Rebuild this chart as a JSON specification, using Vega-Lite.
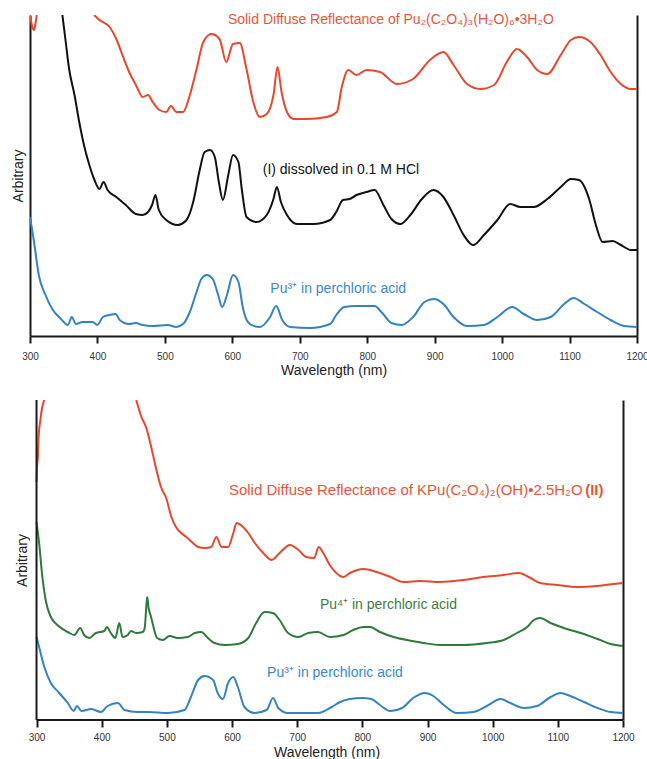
{
"$schema": "https://vega.github.io/schema/vega-lite/v6.json",
"padding": {"left": 11, "top": 13, "right": 0, "bottom": 0},
"background": "white",
"config": {
  "font": "Liberation Sans",
  "view": {"stroke": null},
  "axis": {"grid": false, "domainColor": "#1a1a1a", "domainWidth": 2, "tickColor": "#1a1a1a", "tickWidth": 2, "labelColor": "#333333", "titleColor": "#222222", "titleFontWeight": "normal"}
},
"columns": 1,
"spacing": 22,
"align": "none",
"bounds": "full",
"datasets": {
 "top": [
  {"s":"red","g":"r1","wl":300,"v":321},{"s":"red","g":"r1","wl":303,"v":310},{"s":"red","g":"r1","wl":306,"v":306},{"s":"red","g":"r1","wl":308,"v":312},{"s":"red","g":"r1","wl":310,"v":321},
  {"s":"red","g":"r2","wl":395,"v":321},{"s":"red","g":"r2","wl":403,"v":316},{"s":"red","g":"r2","wl":418,"v":309},{"s":"red","g":"r2","wl":428,"v":297},{"s":"red","g":"r2","wl":437,"v":281},{"s":"red","g":"r2","wl":447,"v":264},{"s":"red","g":"r2","wl":457,"v":251},{"s":"red","g":"r2","wl":467,"v":239},{"s":"red","g":"r2","wl":475,"v":241},{"s":"red","g":"r2","wl":482,"v":234},{"s":"red","g":"r2","wl":492,"v":226},{"s":"red","g":"r2","wl":502,"v":224},{"s":"red","g":"r2","wl":509,"v":230},{"s":"red","g":"r2","wl":517,"v":224},{"s":"red","g":"r2","wl":527,"v":224},{"s":"red","g":"r2","wl":537,"v":241},{"s":"red","g":"r2","wl":547,"v":267},{"s":"red","g":"r2","wl":557,"v":294},{"s":"red","g":"r2","wl":569,"v":302},{"s":"red","g":"r2","wl":581,"v":297},{"s":"red","g":"r2","wl":591,"v":274},{"s":"red","g":"r2","wl":601,"v":292},{"s":"red","g":"r2","wl":611,"v":293},{"s":"red","g":"r2","wl":621,"v":267},{"s":"red","g":"r2","wl":631,"v":234},{"s":"red","g":"r2","wl":641,"v":219},{"s":"red","g":"r2","wl":651,"v":222},{"s":"red","g":"r2","wl":661,"v":241},{"s":"red","g":"r2","wl":667,"v":269},{"s":"red","g":"r2","wl":673,"v":244},{"s":"red","g":"r2","wl":681,"v":224},{"s":"red","g":"r2","wl":691,"v":217},{"s":"red","g":"r2","wl":710,"v":217},{"s":"red","g":"r2","wl":740,"v":219},{"s":"red","g":"r2","wl":755,"v":224},{"s":"red","g":"r2","wl":762,"v":248},{"s":"red","g":"r2","wl":772,"v":266},{"s":"red","g":"r2","wl":784,"v":261},{"s":"red","g":"r2","wl":799,"v":266},{"s":"red","g":"r2","wl":819,"v":264},{"s":"red","g":"r2","wl":844,"v":252},{"s":"red","g":"r2","wl":868,"v":257},{"s":"red","g":"r2","wl":893,"v":276},{"s":"red","g":"r2","wl":913,"v":284},{"s":"red","g":"r2","wl":928,"v":271},{"s":"red","g":"r2","wl":948,"v":252},{"s":"red","g":"r2","wl":968,"v":247},{"s":"red","g":"r2","wl":988,"v":251},{"s":"red","g":"r2","wl":1007,"v":274},{"s":"red","g":"r2","wl":1022,"v":287},{"s":"red","g":"r2","wl":1037,"v":279},{"s":"red","g":"r2","wl":1052,"v":266},{"s":"red","g":"r2","wl":1067,"v":262},{"s":"red","g":"r2","wl":1087,"v":281},{"s":"red","g":"r2","wl":1102,"v":296},{"s":"red","g":"r2","wl":1114,"v":299},{"s":"red","g":"r2","wl":1131,"v":294},{"s":"red","g":"r2","wl":1146,"v":281},{"s":"red","g":"r2","wl":1161,"v":264},{"s":"red","g":"r2","wl":1176,"v":252},{"s":"red","g":"r2","wl":1191,"v":247},{"s":"red","g":"r2","wl":1200,"v":247},
  {"s":"black","g":"k","wl":348,"v":321},{"s":"black","g":"k","wl":353,"v":294},{"s":"black","g":"k","wl":358,"v":267},{"s":"black","g":"k","wl":366,"v":241},{"s":"black","g":"k","wl":373,"v":214},{"s":"black","g":"k","wl":380,"v":191},{"s":"black","g":"k","wl":388,"v":171},{"s":"black","g":"k","wl":395,"v":157},{"s":"black","g":"k","wl":403,"v":147},{"s":"black","g":"k","wl":409,"v":154},{"s":"black","g":"k","wl":415,"v":146},{"s":"black","g":"k","wl":428,"v":139},{"s":"black","g":"k","wl":442,"v":131},{"s":"black","g":"k","wl":457,"v":122},{"s":"black","g":"k","wl":467,"v":121},{"s":"black","g":"k","wl":475,"v":124},{"s":"black","g":"k","wl":481,"v":131},{"s":"black","g":"k","wl":486,"v":141},{"s":"black","g":"k","wl":491,"v":126},{"s":"black","g":"k","wl":502,"v":116},{"s":"black","g":"k","wl":519,"v":111},{"s":"black","g":"k","wl":532,"v":116},{"s":"black","g":"k","wl":542,"v":134},{"s":"black","g":"k","wl":551,"v":164},{"s":"black","g":"k","wl":559,"v":184},{"s":"black","g":"k","wl":567,"v":186},{"s":"black","g":"k","wl":574,"v":179},{"s":"black","g":"k","wl":580,"v":154},{"s":"black","g":"k","wl":586,"v":136},{"s":"black","g":"k","wl":594,"v":161},{"s":"black","g":"k","wl":601,"v":181},{"s":"black","g":"k","wl":609,"v":174},{"s":"black","g":"k","wl":614,"v":147},{"s":"black","g":"k","wl":621,"v":119},{"s":"black","g":"k","wl":636,"v":114},{"s":"black","g":"k","wl":651,"v":121},{"s":"black","g":"k","wl":661,"v":137},{"s":"black","g":"k","wl":666,"v":149},{"s":"black","g":"k","wl":672,"v":134},{"s":"black","g":"k","wl":681,"v":121},{"s":"black","g":"k","wl":696,"v":112},{"s":"black","g":"k","wl":720,"v":112},{"s":"black","g":"k","wl":745,"v":116},{"s":"black","g":"k","wl":754,"v":124},{"s":"black","g":"k","wl":764,"v":136},{"s":"black","g":"k","wl":774,"v":137},{"s":"black","g":"k","wl":784,"v":141},{"s":"black","g":"k","wl":799,"v":144},{"s":"black","g":"k","wl":811,"v":146},{"s":"black","g":"k","wl":824,"v":131},{"s":"black","g":"k","wl":836,"v":117},{"s":"black","g":"k","wl":849,"v":112},{"s":"black","g":"k","wl":864,"v":121},{"s":"black","g":"k","wl":881,"v":137},{"s":"black","g":"k","wl":898,"v":146},{"s":"black","g":"k","wl":913,"v":139},{"s":"black","g":"k","wl":928,"v":121},{"s":"black","g":"k","wl":943,"v":101},{"s":"black","g":"k","wl":957,"v":91},{"s":"black","g":"k","wl":973,"v":101},{"s":"black","g":"k","wl":993,"v":116},{"s":"black","g":"k","wl":1012,"v":132},{"s":"black","g":"k","wl":1027,"v":129},{"s":"black","g":"k","wl":1047,"v":129},{"s":"black","g":"k","wl":1067,"v":137},{"s":"black","g":"k","wl":1087,"v":149},{"s":"black","g":"k","wl":1102,"v":157},{"s":"black","g":"k","wl":1114,"v":156},{"s":"black","g":"k","wl":1129,"v":137},{"s":"black","g":"k","wl":1139,"v":111},{"s":"black","g":"k","wl":1149,"v":94},{"s":"black","g":"k","wl":1164,"v":95},{"s":"black","g":"k","wl":1176,"v":91},{"s":"black","g":"k","wl":1191,"v":86},{"s":"black","g":"k","wl":1200,"v":86},
  {"s":"blue","g":"b","wl":300,"v":119},{"s":"blue","g":"b","wl":306,"v":94},{"s":"blue","g":"b","wl":313,"v":61},{"s":"blue","g":"b","wl":323,"v":41},{"s":"blue","g":"b","wl":333,"v":27},{"s":"blue","g":"b","wl":346,"v":17},{"s":"blue","g":"b","wl":356,"v":11},{"s":"blue","g":"b","wl":362,"v":19},{"s":"blue","g":"b","wl":368,"v":12},{"s":"blue","g":"b","wl":378,"v":14},{"s":"blue","g":"b","wl":393,"v":14},{"s":"blue","g":"b","wl":400,"v":11},{"s":"blue","g":"b","wl":408,"v":19},{"s":"blue","g":"b","wl":418,"v":21},{"s":"blue","g":"b","wl":427,"v":22},{"s":"blue","g":"b","wl":433,"v":16},{"s":"blue","g":"b","wl":447,"v":12},{"s":"blue","g":"b","wl":457,"v":13},{"s":"blue","g":"b","wl":467,"v":11},{"s":"blue","g":"b","wl":482,"v":10},{"s":"blue","g":"b","wl":504,"v":11},{"s":"blue","g":"b","wl":517,"v":9},{"s":"blue","g":"b","wl":527,"v":12},{"s":"blue","g":"b","wl":537,"v":24},{"s":"blue","g":"b","wl":547,"v":44},{"s":"blue","g":"b","wl":554,"v":57},{"s":"blue","g":"b","wl":562,"v":61},{"s":"blue","g":"b","wl":571,"v":57},{"s":"blue","g":"b","wl":579,"v":41},{"s":"blue","g":"b","wl":585,"v":29},{"s":"blue","g":"b","wl":592,"v":41},{"s":"blue","g":"b","wl":601,"v":61},{"s":"blue","g":"b","wl":609,"v":54},{"s":"blue","g":"b","wl":616,"v":27},{"s":"blue","g":"b","wl":626,"v":12},{"s":"blue","g":"b","wl":641,"v":9},{"s":"blue","g":"b","wl":656,"v":19},{"s":"blue","g":"b","wl":665,"v":30},{"s":"blue","g":"b","wl":674,"v":16},{"s":"blue","g":"b","wl":686,"v":9},{"s":"blue","g":"b","wl":715,"v":8},{"s":"blue","g":"b","wl":745,"v":12},{"s":"blue","g":"b","wl":754,"v":21},{"s":"blue","g":"b","wl":766,"v":29},{"s":"blue","g":"b","wl":784,"v":30},{"s":"blue","g":"b","wl":811,"v":30},{"s":"blue","g":"b","wl":821,"v":24},{"s":"blue","g":"b","wl":836,"v":13},{"s":"blue","g":"b","wl":851,"v":11},{"s":"blue","g":"b","wl":868,"v":19},{"s":"blue","g":"b","wl":885,"v":34},{"s":"blue","g":"b","wl":899,"v":37},{"s":"blue","g":"b","wl":913,"v":32},{"s":"blue","g":"b","wl":928,"v":19},{"s":"blue","g":"b","wl":948,"v":10},{"s":"blue","g":"b","wl":973,"v":11},{"s":"blue","g":"b","wl":993,"v":19},{"s":"blue","g":"b","wl":1015,"v":29},{"s":"blue","g":"b","wl":1032,"v":22},{"s":"blue","g":"b","wl":1052,"v":16},{"s":"blue","g":"b","wl":1072,"v":19},{"s":"blue","g":"b","wl":1092,"v":32},{"s":"blue","g":"b","wl":1106,"v":38},{"s":"blue","g":"b","wl":1122,"v":32},{"s":"blue","g":"b","wl":1141,"v":24},{"s":"blue","g":"b","wl":1161,"v":16},{"s":"blue","g":"b","wl":1181,"v":10},{"s":"blue","g":"b","wl":1200,"v":9}
 ],
 "bottom": [
  {"s":"red","g":"r1","wl":300,"v":238},{"s":"red","g":"r1","wl":301,"v":255},{"s":"red","g":"r1","wl":302,"v":262},{"s":"red","g":"r1","wl":303,"v":280},{"s":"red","g":"r1","wl":304,"v":290},{"s":"red","g":"r1","wl":306,"v":300},{"s":"red","g":"r1","wl":308,"v":310},{"s":"red","g":"r1","wl":310,"v":316},{"s":"red","g":"r1","wl":312,"v":320},
  {"s":"red","g":"r2","wl":453,"v":320},{"s":"red","g":"r2","wl":461,"v":303},{"s":"red","g":"r2","wl":468,"v":293},{"s":"red","g":"r2","wl":476,"v":273},{"s":"red","g":"r2","wl":484,"v":250},{"s":"red","g":"r2","wl":491,"v":233},{"s":"red","g":"r2","wl":499,"v":222},{"s":"red","g":"r2","wl":507,"v":203},{"s":"red","g":"r2","wl":514,"v":193},{"s":"red","g":"r2","wl":522,"v":187},{"s":"red","g":"r2","wl":530,"v":183},{"s":"red","g":"r2","wl":540,"v":177},{"s":"red","g":"r2","wl":548,"v":173},{"s":"red","g":"r2","wl":558,"v":172},{"s":"red","g":"r2","wl":568,"v":173},{"s":"red","g":"r2","wl":576,"v":183},{"s":"red","g":"r2","wl":584,"v":173},{"s":"red","g":"r2","wl":594,"v":173},{"s":"red","g":"r2","wl":602,"v":187},{"s":"red","g":"r2","wl":607,"v":197},{"s":"red","g":"r2","wl":617,"v":193},{"s":"red","g":"r2","wl":625,"v":187},{"s":"red","g":"r2","wl":635,"v":177},{"s":"red","g":"r2","wl":648,"v":167},{"s":"red","g":"r2","wl":661,"v":160},{"s":"red","g":"r2","wl":673,"v":167},{"s":"red","g":"r2","wl":689,"v":175},{"s":"red","g":"r2","wl":702,"v":170},{"s":"red","g":"r2","wl":714,"v":163},{"s":"red","g":"r2","wl":726,"v":162},{"s":"red","g":"r2","wl":733,"v":173},{"s":"red","g":"r2","wl":740,"v":167},{"s":"red","g":"r2","wl":750,"v":155},{"s":"red","g":"r2","wl":760,"v":147},{"s":"red","g":"r2","wl":771,"v":143},{"s":"red","g":"r2","wl":781,"v":147},{"s":"red","g":"r2","wl":802,"v":151},{"s":"red","g":"r2","wl":822,"v":148},{"s":"red","g":"r2","wl":843,"v":143},{"s":"red","g":"r2","wl":863,"v":138},{"s":"red","g":"r2","wl":889,"v":139},{"s":"red","g":"r2","wl":919,"v":138},{"s":"red","g":"r2","wl":955,"v":140},{"s":"red","g":"r2","wl":986,"v":143},{"s":"red","g":"r2","wl":1017,"v":145},{"s":"red","g":"r2","wl":1040,"v":147},{"s":"red","g":"r2","wl":1058,"v":142},{"s":"red","g":"r2","wl":1073,"v":137},{"s":"red","g":"r2","wl":1099,"v":135},{"s":"red","g":"r2","wl":1130,"v":133},{"s":"red","g":"r2","wl":1161,"v":134},{"s":"red","g":"r2","wl":1186,"v":136},{"s":"red","g":"r2","wl":1200,"v":137},
  {"s":"green","g":"gr","wl":300,"v":198},{"s":"green","g":"gr","wl":304,"v":177},{"s":"green","g":"gr","wl":309,"v":143},{"s":"green","g":"gr","wl":314,"v":120},{"s":"green","g":"gr","wl":322,"v":103},{"s":"green","g":"gr","wl":332,"v":95},{"s":"green","g":"gr","wl":348,"v":88},{"s":"green","g":"gr","wl":358,"v":85},{"s":"green","g":"gr","wl":367,"v":92},{"s":"green","g":"gr","wl":373,"v":85},{"s":"green","g":"gr","wl":381,"v":82},{"s":"green","g":"gr","wl":391,"v":87},{"s":"green","g":"gr","wl":404,"v":89},{"s":"green","g":"gr","wl":408,"v":93},{"s":"green","g":"gr","wl":414,"v":87},{"s":"green","g":"gr","wl":421,"v":82},{"s":"green","g":"gr","wl":427,"v":97},{"s":"green","g":"gr","wl":432,"v":83},{"s":"green","g":"gr","wl":440,"v":85},{"s":"green","g":"gr","wl":445,"v":89},{"s":"green","g":"gr","wl":453,"v":87},{"s":"green","g":"gr","wl":463,"v":88},{"s":"green","g":"gr","wl":466,"v":92},{"s":"green","g":"gr","wl":469,"v":118},{"s":"green","g":"gr","wl":470,"v":123},{"s":"green","g":"gr","wl":472,"v":112},{"s":"green","g":"gr","wl":475,"v":105},{"s":"green","g":"gr","wl":478,"v":97},{"s":"green","g":"gr","wl":485,"v":82},{"s":"green","g":"gr","wl":494,"v":80},{"s":"green","g":"gr","wl":504,"v":84},{"s":"green","g":"gr","wl":517,"v":82},{"s":"green","g":"gr","wl":532,"v":83},{"s":"green","g":"gr","wl":543,"v":87},{"s":"green","g":"gr","wl":553,"v":88},{"s":"green","g":"gr","wl":563,"v":82},{"s":"green","g":"gr","wl":573,"v":77},{"s":"green","g":"gr","wl":589,"v":75},{"s":"green","g":"gr","wl":609,"v":76},{"s":"green","g":"gr","wl":625,"v":82},{"s":"green","g":"gr","wl":637,"v":97},{"s":"green","g":"gr","wl":650,"v":108},{"s":"green","g":"gr","wl":663,"v":107},{"s":"green","g":"gr","wl":673,"v":100},{"s":"green","g":"gr","wl":686,"v":87},{"s":"green","g":"gr","wl":702,"v":83},{"s":"green","g":"gr","wl":717,"v":87},{"s":"green","g":"gr","wl":732,"v":88},{"s":"green","g":"gr","wl":750,"v":83},{"s":"green","g":"gr","wl":771,"v":85},{"s":"green","g":"gr","wl":786,"v":90},{"s":"green","g":"gr","wl":802,"v":93},{"s":"green","g":"gr","wl":812,"v":93},{"s":"green","g":"gr","wl":827,"v":88},{"s":"green","g":"gr","wl":848,"v":83},{"s":"green","g":"gr","wl":868,"v":80},{"s":"green","g":"gr","wl":894,"v":77},{"s":"green","g":"gr","wl":919,"v":75},{"s":"green","g":"gr","wl":955,"v":75},{"s":"green","g":"gr","wl":991,"v":77},{"s":"green","g":"gr","wl":1017,"v":80},{"s":"green","g":"gr","wl":1037,"v":87},{"s":"green","g":"gr","wl":1053,"v":93},{"s":"green","g":"gr","wl":1063,"v":100},{"s":"green","g":"gr","wl":1073,"v":102},{"s":"green","g":"gr","wl":1089,"v":97},{"s":"green","g":"gr","wl":1109,"v":92},{"s":"green","g":"gr","wl":1135,"v":87},{"s":"green","g":"gr","wl":1161,"v":81},{"s":"green","g":"gr","wl":1181,"v":76},{"s":"green","g":"gr","wl":1200,"v":74},
  {"s":"blue","g":"b","wl":300,"v":83},{"s":"blue","g":"b","wl":304,"v":73},{"s":"blue","g":"b","wl":312,"v":53},{"s":"blue","g":"b","wl":322,"v":37},{"s":"blue","g":"b","wl":335,"v":27},{"s":"blue","g":"b","wl":348,"v":17},{"s":"blue","g":"b","wl":357,"v":9},{"s":"blue","g":"b","wl":362,"v":14},{"s":"blue","g":"b","wl":369,"v":9},{"s":"blue","g":"b","wl":384,"v":11},{"s":"blue","g":"b","wl":399,"v":8},{"s":"blue","g":"b","wl":409,"v":14},{"s":"blue","g":"b","wl":425,"v":17},{"s":"blue","g":"b","wl":435,"v":10},{"s":"blue","g":"b","wl":455,"v":8},{"s":"blue","g":"b","wl":471,"v":8},{"s":"blue","g":"b","wl":502,"v":7},{"s":"blue","g":"b","wl":527,"v":10},{"s":"blue","g":"b","wl":537,"v":23},{"s":"blue","g":"b","wl":548,"v":40},{"s":"blue","g":"b","wl":558,"v":44},{"s":"blue","g":"b","wl":571,"v":40},{"s":"blue","g":"b","wl":578,"v":27},{"s":"blue","g":"b","wl":586,"v":21},{"s":"blue","g":"b","wl":594,"v":37},{"s":"blue","g":"b","wl":602,"v":43},{"s":"blue","g":"b","wl":609,"v":33},{"s":"blue","g":"b","wl":619,"v":13},{"s":"blue","g":"b","wl":635,"v":7},{"s":"blue","g":"b","wl":653,"v":10},{"s":"blue","g":"b","wl":663,"v":22},{"s":"blue","g":"b","wl":671,"v":12},{"s":"blue","g":"b","wl":686,"v":7},{"s":"blue","g":"b","wl":732,"v":7},{"s":"blue","g":"b","wl":753,"v":13},{"s":"blue","g":"b","wl":766,"v":18},{"s":"blue","g":"b","wl":781,"v":21},{"s":"blue","g":"b","wl":800,"v":22},{"s":"blue","g":"b","wl":814,"v":21},{"s":"blue","g":"b","wl":827,"v":15},{"s":"blue","g":"b","wl":843,"v":9},{"s":"blue","g":"b","wl":861,"v":12},{"s":"blue","g":"b","wl":878,"v":22},{"s":"blue","g":"b","wl":896,"v":27},{"s":"blue","g":"b","wl":909,"v":24},{"s":"blue","g":"b","wl":925,"v":15},{"s":"blue","g":"b","wl":945,"v":7},{"s":"blue","g":"b","wl":971,"v":8},{"s":"blue","g":"b","wl":991,"v":14},{"s":"blue","g":"b","wl":1012,"v":21},{"s":"blue","g":"b","wl":1027,"v":17},{"s":"blue","g":"b","wl":1048,"v":12},{"s":"blue","g":"b","wl":1068,"v":14},{"s":"blue","g":"b","wl":1089,"v":23},{"s":"blue","g":"b","wl":1104,"v":27},{"s":"blue","g":"b","wl":1119,"v":24},{"s":"blue","g":"b","wl":1140,"v":18},{"s":"blue","g":"b","wl":1161,"v":12},{"s":"blue","g":"b","wl":1181,"v":8},{"s":"blue","g":"b","wl":1200,"v":7}
 ]
},
"concat": [
 {
  "width": 607, "height": 321,
  "resolve": {"axis": {"y": "independent"}},
  "layer": [
   {
    "data": {"name": "top"},
    "mark": {"type": "line", "strokeWidth": 2, "clip": true, "interpolate": "monotone"},
    "encoding": {
     "x": {"field": "wl", "type": "quantitative", "scale": {"domain": [300, 1200], "nice": false, "zero": false},
           "axis": {"values": [300,400,500,600,700,800,900,1000,1100,1200], "format": "d", "tickSize": 7, "labelFontSize": 10, "labelPadding": 8, "title": "Wavelength (nm)", "titleFontSize": 14, "titlePadding": 2, "labelFlush": false}},
     "y": {"field": "v", "type": "quantitative", "scale": {"domain": [0, 321], "nice": false, "zero": false},
           "axis": {"orient": "left", "ticks": false, "labels": false, "title": "Arbitrary", "titleFontSize": 14, "titlePadding": 5}},
     "color": {"field": "s", "type": "nominal", "scale": {"domain": ["red", "black", "blue", "green"], "range": ["#e8472c", "#111111", "#3282c4", "#2f7a3a"]}, "legend": null},
     "detail": {"field": "g"}
    }
   },
   {
    "data": {"name": "top"},
    "mark": {"type": "line", "opacity": 0},
    "encoding": {
     "x": {"field": "wl", "type": "quantitative"},
     "y": {"field": "v", "type": "quantitative", "axis": {"orient": "right", "ticks": false, "labels": false, "title": null}}
    }
   },
   {
    "data": {"values": [{}]},
    "mark": {"type": "text", "text": "Solid Diffuse Reflectance of Pu₂(C₂O₄)₃(H₂O)₆•3H₂O", "fontSize": 14, "color": "#e8553a", "align": "center", "baseline": "middle"},
    "encoding": {"x": {"datum": 835, "type": "quantitative"}, "y": {"datum": 316, "type": "quantitative", "axis": null}}
   },
   {
    "data": {"values": [{}]},
    "mark": {"type": "text", "text": "(I) dissolved in 0.1 M HCl", "fontSize": 14, "color": "#111111", "align": "center", "baseline": "middle"},
    "encoding": {"x": {"datum": 761, "type": "quantitative"}, "y": {"datum": 166, "type": "quantitative", "axis": null}}
   },
   {
    "data": {"values": [{}]},
    "mark": {"type": "text", "text": "Pu³⁺ in perchloric acid", "fontSize": 14, "color": "#3a88cc", "align": "center", "baseline": "middle"},
    "encoding": {"x": {"datum": 757, "type": "quantitative"}, "y": {"datum": 47, "type": "quantitative", "axis": null}}
   }
  ]
 },
 {
  "width": 593, "height": 320,
  "resolve": {"axis": {"y": "independent"}},
  "layer": [
   {
    "data": {"name": "bottom"},
    "mark": {"type": "line", "strokeWidth": 2, "clip": true, "interpolate": "monotone"},
    "encoding": {
     "x": {"field": "wl", "type": "quantitative", "scale": {"domain": [290, 1200], "nice": false, "zero": false},
           "axis": {"values": [300,400,500,600,700,800,900,1000,1100,1200], "format": "d", "domain": false, "tickSize": 7, "labelFontSize": 10, "labelPadding": 5, "title": "Wavelength (nm)", "titleFontSize": 14, "titlePadding": 3, "labelFlush": false}},
     "y": {"field": "v", "type": "quantitative", "scale": {"domain": [0, 320], "nice": false, "zero": false},
           "axis": {"orient": "left", "domain": false, "ticks": false, "labels": false, "title": "Arbitrary", "titleFontSize": 14, "titlePadding": 1}},
     "color": {"field": "s", "type": "nominal", "scale": {"domain": ["red", "black", "blue", "green"], "range": ["#e8472c", "#111111", "#3282c4", "#2f7a3a"]}, "legend": null},
     "detail": {"field": "g"}
    }
   },
   {
    "data": {"name": "bottom"},
    "mark": {"type": "line", "opacity": 0},
    "encoding": {
     "x": {"field": "wl", "type": "quantitative"},
     "y": {"field": "v", "type": "quantitative", "axis": {"orient": "right", "ticks": false, "labels": false, "title": null}}
    }
   },
   {
    "data": {"values": [{}]},
    "mark": {"type": "rule", "strokeWidth": 2, "color": "#1a1a1a"},
    "encoding": {"x": {"datum": 300, "type": "quantitative"}, "y": {"datum": 0, "type": "quantitative", "axis": null}, "y2": {"datum": 320}}
   },
   {
    "data": {"values": [{}]},
    "mark": {"type": "rule", "strokeWidth": 2, "color": "#1a1a1a"},
    "encoding": {"x": {"datum": 300, "type": "quantitative"}, "x2": {"datum": 1200}, "y": {"datum": 0, "type": "quantitative", "axis": null}}
   },
   {
    "data": {"values": [{}]},
    "mark": {"type": "text", "text": "Solid Diffuse Reflectance of KPu(C₂O₄)₂(OH)•2.5H₂O", "fontSize": 15, "color": "#e8553a", "align": "right", "baseline": "middle"},
    "encoding": {"x": {"datum": 1138, "type": "quantitative"}, "y": {"datum": 230, "type": "quantitative", "axis": null}}
   },
   {
    "data": {"values": [{}]},
    "mark": {"type": "text", "text": "(II)", "fontSize": 15, "fontWeight": "bold", "color": "#e8553a", "align": "left", "baseline": "middle"},
    "encoding": {"x": {"datum": 1142, "type": "quantitative"}, "y": {"datum": 230, "type": "quantitative", "axis": null}}
   },
   {
    "data": {"values": [{}]},
    "mark": {"type": "text", "text": "Pu⁴⁺ in perchloric acid", "fontSize": 14, "color": "#3b7d40", "align": "center", "baseline": "middle"},
    "encoding": {"x": {"datum": 840, "type": "quantitative"}, "y": {"datum": 115, "type": "quantitative", "axis": null}}
   },
   {
    "data": {"values": [{}]},
    "mark": {"type": "text", "text": "Pu³⁺ in perchloric acid", "fontSize": 14, "color": "#3a88cc", "align": "center", "baseline": "middle"},
    "encoding": {"x": {"datum": 758, "type": "quantitative"}, "y": {"datum": 47, "type": "quantitative", "axis": null}}
   }
  ]
 }
]
}
